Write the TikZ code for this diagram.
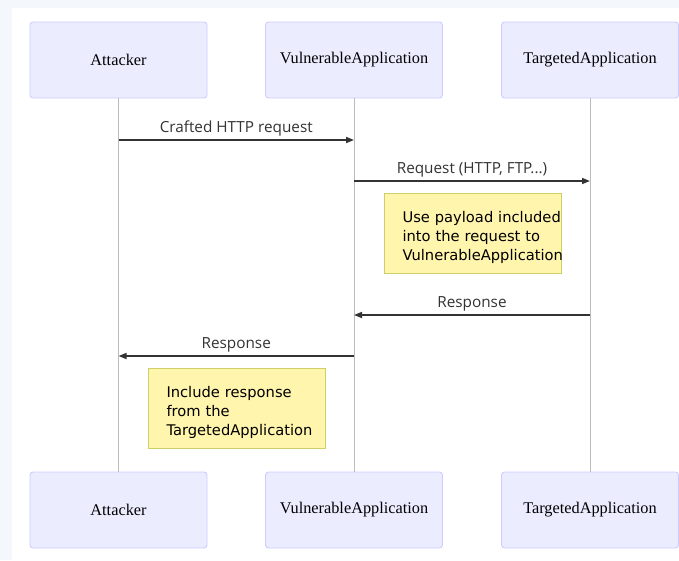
\documentclass[tikz,border=0pt]{standalone}
\usepackage{fontspec}
\setmainfont{Liberation Serif}
\newfontfamily\msgfont{Open Sans}
\newfontfamily\notefont{DejaVu Sans}
\usetikzlibrary{arrows.meta}
\definecolor{pagebg}{HTML}{F4F7FB}
\definecolor{actorfill}{HTML}{ECECFF}
\definecolor{actorline}{HTML}{CCCCFF}
\definecolor{notefill}{HTML}{FFF5AD}
\definecolor{noteline}{HTML}{CFCF6A}
\definecolor{msgcol}{HTML}{333333}
\definecolor{lifecol}{HTML}{BBBBBB}
\begin{document}
\begin{tikzpicture}[x=1pt,y=-1pt,
    actor/.style={draw=actorline,fill=actorfill,line width=0.9pt,rounded corners=3pt,
        minimum width=177pt,minimum height=76pt,font=\fontsize{16.3}{19}\selectfont},
    life/.style={draw=lifecol,line width=0.9pt},
    msg/.style={draw=msgcol,line width=1.6pt,-{Triangle[length=8pt,width=6pt]}},
    msglabel/.style={midway,above,inner sep=3.5pt,text=msgcol,font=\msgfont\fontsize{15.3}{18}\selectfont},
    note/.style={draw=noteline,fill=notefill,line width=0.9pt,minimum height=80pt,
        text width=140pt,inner xsep=18.5pt,align=left,font=\notefont\fontsize{14.7}{19}\selectfont}]
        \useasboundingbox (0,0) rectangle (679,560);
        \fill[pagebg] (0,0) rectangle (679,560);
        \fill[white] (12,8) rectangle (679,560);
        % participants, top and bottom
        \node[actor] (att) at (118.5,60) {Attacker};
        \node[actor] (vul) at (354,60) {VulnerableApplication};
        \node[actor] (tgt) at (590,60) {TargetedApplication};
        \node[actor] (attB) at (118.5,510) {Attacker};
        \node[actor] (vulB) at (354,510) {VulnerableApplication};
        \node[actor] (tgtB) at (590,510) {TargetedApplication};
        \draw[life] (att)--(attB);
        \draw[life] (vul)--(vulB);
        \draw[life] (tgt)--(tgtB);
        % messages
        \coordinate (a1) at (att |- 0,140);
        \coordinate (v1) at (vul |- 0,140);
        \coordinate (v2) at (vul |- 0,181);
        \coordinate (t2) at (tgt |- 0,181);
        \coordinate (t3) at (tgt |- 0,315);
        \coordinate (v3) at (vul |- 0,315);
        \coordinate (v4) at (vul |- 0,356);
        \coordinate (a4) at (att |- 0,356);
        \draw[msg] (a1)--(v1)node[msglabel]{Crafted HTTP request};
        \draw[msg] (v2)--(t2)node[msglabel]{Request (HTTP, FTP...)};
        \draw[msg] (t3)--(v3)node[msglabel]{Response};
        \draw[msg] (v4)--(a4)node[msglabel]{Response};
        % notes
        \node[note] (payload) at (472.5,233) {\rule{0pt}{20pt}\mbox{Use payload included}\\\mbox{into the request to}\\\mbox{VulnerableApplication}};
        \node[note] (include) at (236.5,408) {\rule{0pt}{20pt}\mbox{Include response}\\\mbox{from the}\\\mbox{TargetedApplication}};
\end{tikzpicture}
\end{document}
